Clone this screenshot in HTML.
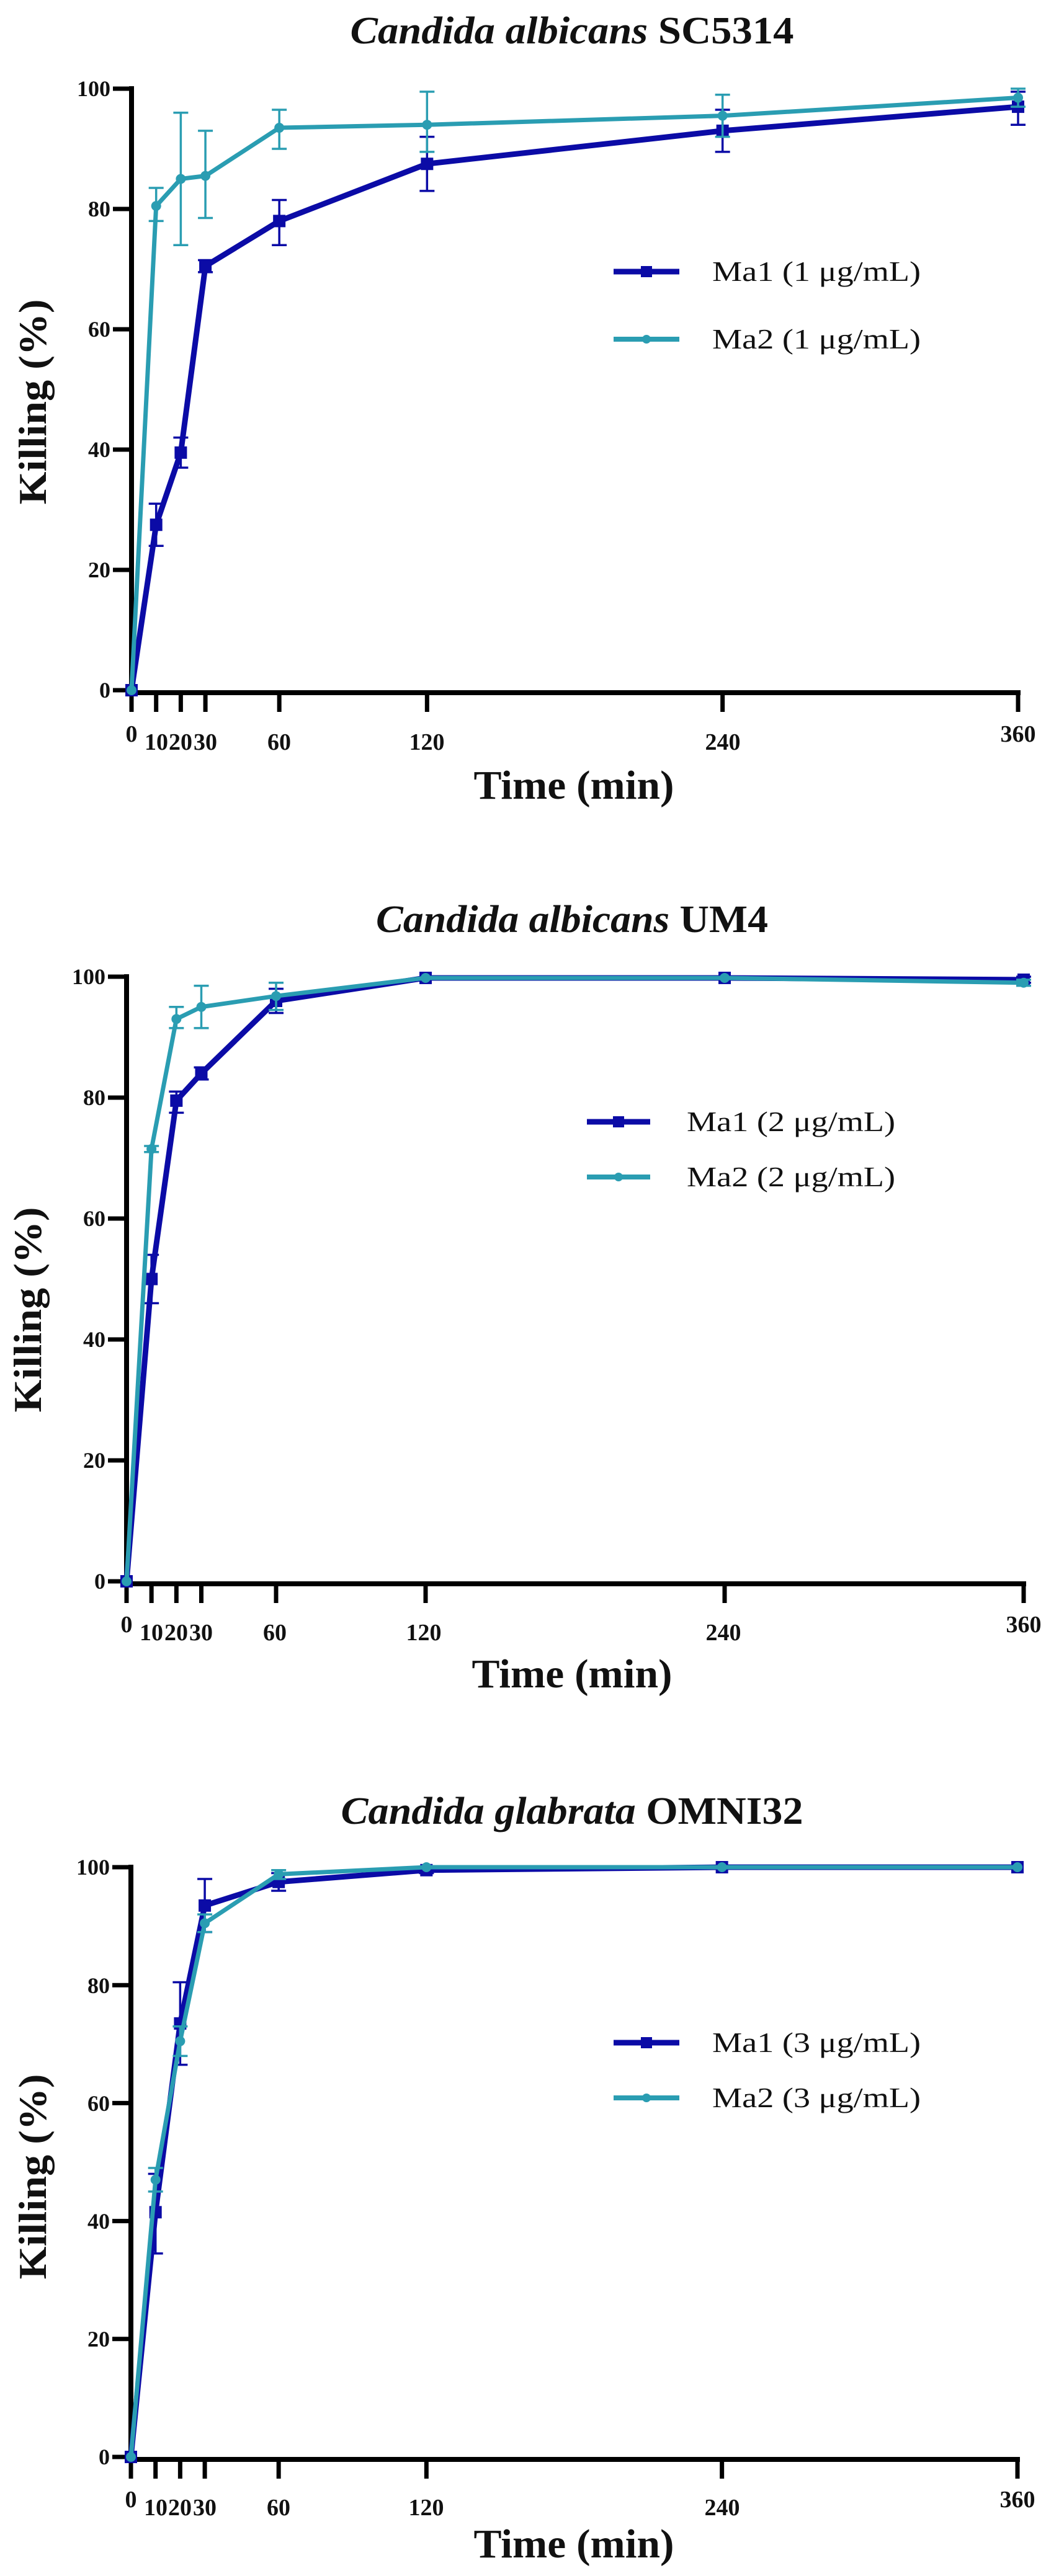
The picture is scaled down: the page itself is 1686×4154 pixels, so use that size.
<!DOCTYPE html>
<html><head><meta charset="utf-8"><style>
html,body{margin:0;padding:0;background:#fff;}
svg{display:block;}
text{font-family:"Liberation Serif",serif;fill:#111;}
</style></head><body>
<svg id="s" width="1686" height="4154" viewBox="0 0 1686 4154" xmlns="http://www.w3.org/2000/svg">
<rect width="1686" height="4154" fill="#fff"/>
<!-- Panel 1 -->
<text x="922" y="70" text-anchor="middle" font-size="62" font-weight="bold" textLength="715" lengthAdjust="spacingAndGlyphs"><tspan font-style="italic">Candida albicans</tspan> SC5314</text>
<text transform="translate(74,648) rotate(-90)" text-anchor="middle" font-size="64" font-weight="bold" textLength="331" lengthAdjust="spacingAndGlyphs">Killing (%)</text>
<text x="925" y="1288" text-anchor="middle" font-size="66" font-weight="bold" textLength="323" lengthAdjust="spacingAndGlyphs">Time (min)</text>
<text x="1148" y="453" font-size="46" textLength="336" lengthAdjust="spacingAndGlyphs">Ma1 (1 μg/mL)</text>
<text x="1148" y="562" font-size="46" textLength="336" lengthAdjust="spacingAndGlyphs">Ma2 (1 μg/mL)</text>
<!-- Panel 2 -->
<text x="922" y="1503" text-anchor="middle" font-size="62" font-weight="bold" textLength="632" lengthAdjust="spacingAndGlyphs"><tspan font-style="italic">Candida albicans</tspan> UM4</text>
<text transform="translate(66,2112) rotate(-90)" text-anchor="middle" font-size="64" font-weight="bold" textLength="331" lengthAdjust="spacingAndGlyphs">Killing (%)</text>
<text x="922" y="2721" text-anchor="middle" font-size="66" font-weight="bold" textLength="323" lengthAdjust="spacingAndGlyphs">Time (min)</text>
<text x="1107" y="1824" font-size="46" textLength="336" lengthAdjust="spacingAndGlyphs">Ma1 (2 μg/mL)</text>
<text x="1107" y="1913" font-size="46" textLength="336" lengthAdjust="spacingAndGlyphs">Ma2 (2 μg/mL)</text>
<!-- Panel 3 -->
<text x="922" y="2941" text-anchor="middle" font-size="62" font-weight="bold" textLength="745" lengthAdjust="spacingAndGlyphs"><tspan font-style="italic">Candida glabrata</tspan> OMNI32</text>
<text transform="translate(74,3510) rotate(-90)" text-anchor="middle" font-size="64" font-weight="bold" textLength="331" lengthAdjust="spacingAndGlyphs">Killing (%)</text>
<text x="925" y="4124" text-anchor="middle" font-size="66" font-weight="bold" textLength="323" lengthAdjust="spacingAndGlyphs">Time (min)</text>
<text x="1148" y="3309" font-size="46" textLength="336" lengthAdjust="spacingAndGlyphs">Ma1 (3 μg/mL)</text>
<text x="1148" y="3398" font-size="46" textLength="336" lengthAdjust="spacingAndGlyphs">Ma2 (3 μg/mL)</text>
<!-- tick labels panel 1 -->
<g font-size="36" font-weight="bold" text-anchor="end">
<text x="178" y="155">100</text><text x="178" y="349">80</text><text x="178" y="543">60</text><text x="178" y="737">40</text><text x="178" y="931">20</text><text x="178" y="1125">0</text>
<text x="170" y="1587">100</text><text x="170" y="1782">80</text><text x="170" y="1977">60</text><text x="170" y="2172">40</text><text x="170" y="2367">20</text><text x="170" y="2562">0</text>
<text x="177" y="3023">100</text><text x="177" y="3214">80</text><text x="177" y="3404">60</text><text x="177" y="3594">40</text><text x="177" y="3784">20</text><text x="177" y="3974">0</text>
</g>
<g font-size="38" font-weight="bold" text-anchor="middle">
<text x="212" y="1196">0</text><text x="252" y="1209">10</text><text x="291" y="1209">20</text><text x="331" y="1209">30</text><text x="450" y="1209">60</text><text x="688" y="1209">120</text><text x="1165" y="1209">240</text><text x="1641" y="1196">360</text>
<text x="204" y="2632">0</text><text x="244" y="2645">10</text><text x="284" y="2645">20</text><text x="324" y="2645">30</text><text x="443" y="2645">60</text><text x="683" y="2645">120</text><text x="1166" y="2645">240</text><text x="1650" y="2632">360</text>
<text x="211" y="4043">0</text><text x="251" y="4056">10</text><text x="290" y="4056">20</text><text x="330" y="4056">30</text><text x="449" y="4056">60</text><text x="687" y="4056">120</text><text x="1164" y="4056">240</text><text x="1640" y="4043">360</text>
</g>
<g id="plots"></g>
</svg>
<script>
var P=[
{x0:212,x1:1641,y0:1113,y1:143,leg:[989,1095,438,547],
a:[[0,0,0,0],[10,27.5,24,31],[20,39.5,37,42],[30,70.5,69.5,71.5],[60,78,74,81.5],[120,87.5,83,92],[240,93,89.5,96.5],[360,97,94,99.5]],
b:[[0,0,0,0],[10,80.5,78,83.5],[20,85,74,96],[30,85.5,78.5,93],[60,93.5,90,96.5],[120,94,89.5,99.5],[240,95.5,92,99],[360,98.5,97,100]]},
{x0:204,x1:1650,y0:2550,y1:1575,leg:[946,1048,1809,1898],
a:[[0,0,0,0],[10,50,46,54],[20,79.5,77.5,81],[30,84,83,85],[60,96,94,98],[120,99.8,99.5,100],[240,99.8,99.5,100],[360,99.5,99,100]],
b:[[0,0,0,0],[10,71.5,71,72],[20,93,91.5,95],[30,95,91.5,98.5],[60,96.8,94.5,99],[120,99.8,99.5,100],[240,99.8,99.5,100],[360,99,98.5,99.5]]},
{x0:211,x1:1640,y0:3962,y1:3011,leg:[989,1095,3294,3383],
a:[[0,0,0,0],[10,41.5,34.5,48],[20,73.5,66.5,80.5],[30,93.5,89,98],[60,97.5,96,99],[120,99.5,99,100],[240,100,100,100],[360,100,100,100]],
b:[[0,0,0,0],[10,47,45,49],[20,70.5,68,73],[30,90.5,89,92],[60,98.8,98,99.5],[120,100,100,100],[240,100,100,100],[360,100,100,100]]}];
var C1="#0b0ba6",C2="#2a9db2",h="";
P.forEach(function(p){
 var X=function(t){return p.x0+(p.x1-p.x0)*t/360},Y=function(v){return p.y0+(p.y1-p.y0)*v/100};
 // axes
 h+='<path d="M'+p.x0+' '+(p.y1-4)+'V'+(p.y0+4)+'H'+(p.x1+4)+'" fill="none" stroke="#000" stroke-width="8"/>';
 for(var v=0;v<=100;v+=20)h+='<line x1="'+(p.x0-30)+'" x2="'+p.x0+'" y1="'+Y(v)+'" y2="'+Y(v)+'" stroke="#000" stroke-width="7"/>';
 [0,10,20,30,60,120,240,360].forEach(function(t){h+='<line x1="'+X(t)+'" x2="'+X(t)+'" y1="'+p.y0+'" y2="'+(p.y0+35)+'" stroke="#000" stroke-width="7"/>';});
 [[p.a,C1,9,1],[p.b,C2,7,0]].forEach(function(s){
  var d=s[0],c=s[1];
  d.forEach(function(r){if(r[3]-r[2]>0.5){var x=X(r[0]);h+='<path d="M'+x+' '+Y(r[2])+'V'+Y(r[3])+'M'+(x-12)+' '+Y(r[2])+'h24M'+(x-12)+' '+Y(r[3])+'h24" stroke="'+c+'" stroke-width="3.5" fill="none"/>';}});
  h+='<polyline points="'+d.map(function(r){return X(r[0])+','+Y(r[1])}).join(' ')+'" fill="none" stroke="'+c+'" stroke-width="'+s[2]+'" stroke-linejoin="round"/>';
  d.forEach(function(r){var x=X(r[0]),y=Y(r[1]);h+=s[3]?'<rect x="'+(x-10)+'" y="'+(y-10)+'" width="20" height="20" fill="'+c+'"/>':'<circle cx="'+x+'" cy="'+y+'" r="8" fill="'+c+'"/>';});
 });
 var L=p.leg;
 h+='<line x1="'+L[0]+'" x2="'+L[1]+'" y1="'+L[2]+'" y2="'+L[2]+'" stroke="'+C1+'" stroke-width="9"/><rect x="'+((L[0]+L[1])/2-9)+'" y="'+(L[2]-9)+'" width="18" height="18" fill="'+C1+'"/>';
 h+='<line x1="'+L[0]+'" x2="'+L[1]+'" y1="'+L[3]+'" y2="'+L[3]+'" stroke="'+C2+'" stroke-width="8"/><circle cx="'+((L[0]+L[1])/2)+'" cy="'+L[3]+'" r="7" fill="'+C2+'"/>';
});
document.getElementById("plots").innerHTML=h;
</script>
</body></html>
